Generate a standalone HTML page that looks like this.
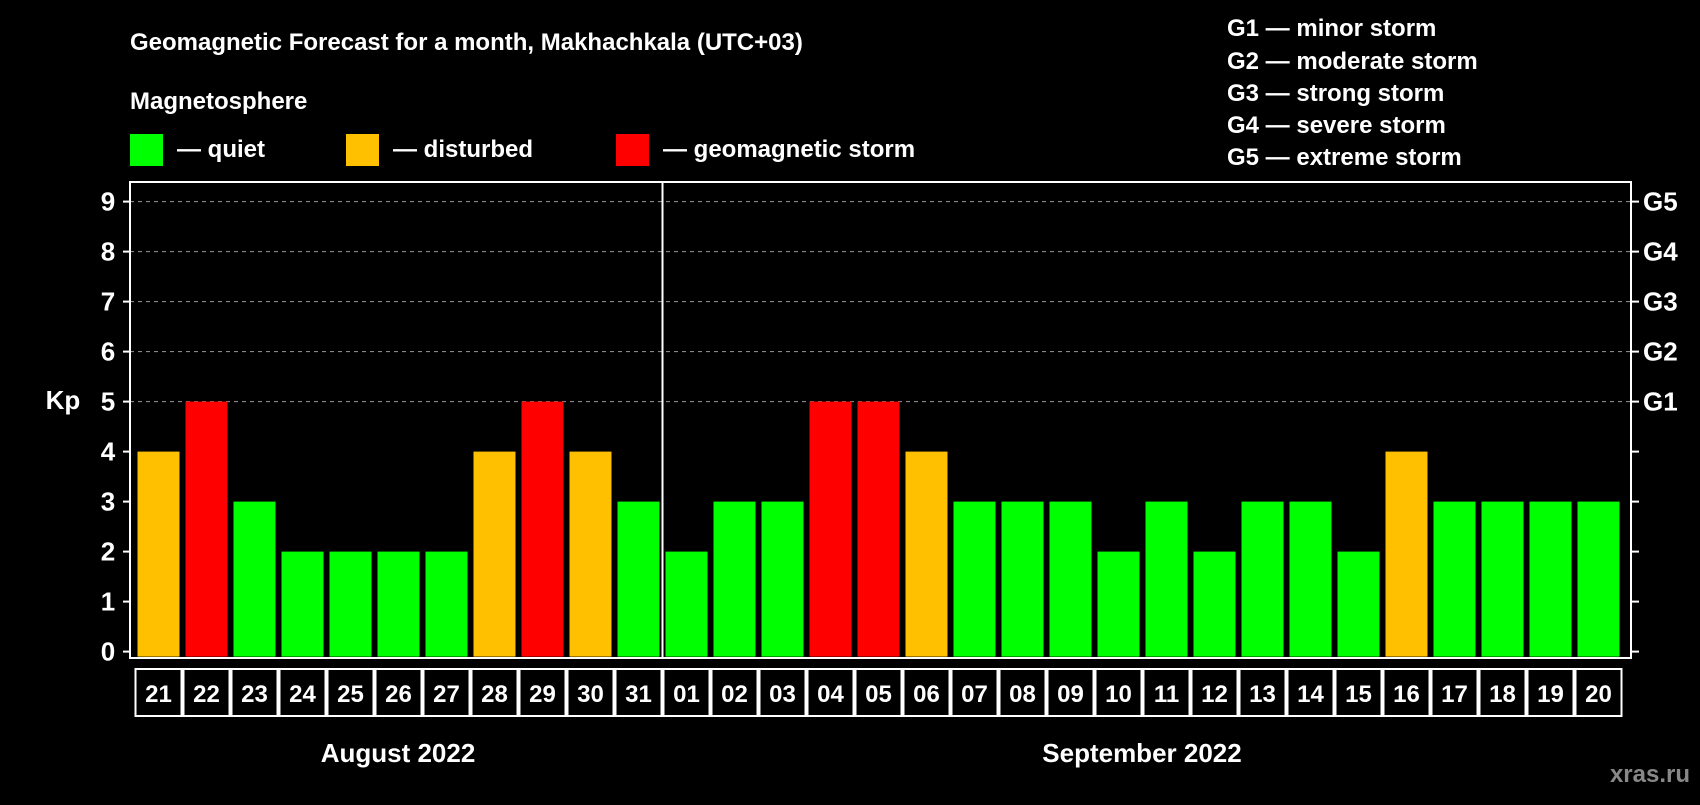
<!DOCTYPE html>
<html><head><meta charset="utf-8"><style>
body{margin:0;background:#000;width:1700px;height:800px;overflow:hidden}
svg text{font-family:"Liberation Sans",Arial,sans-serif;font-weight:bold;fill:#fff}
</style></head><body>
<svg id="c" width="1700" height="800" xmlns="http://www.w3.org/2000/svg">
<text x="130" y="50" font-size="24">Geomagnetic Forecast for a month, Makhachkala (UTC+03)</text>
<text x="130" y="109" font-size="24">Magnetosphere</text>
<g><rect x="130" y="134" width="33" height="32" fill="#00ff00"/><text x="177" y="157" font-size="24">— quiet</text></g>
<g><rect x="346" y="134" width="33" height="32" fill="#ffc000"/><text x="393" y="157" font-size="24">— disturbed</text></g>
<g><rect x="616" y="134" width="33" height="32" fill="#ff0000"/><text x="663" y="157" font-size="24">— geomagnetic storm</text></g>
<g font-size="24">
<text x="1227" y="36">G1 — minor storm</text>
<text x="1227" y="69">G2 — moderate storm</text>
<text x="1227" y="101">G3 — strong storm</text>
<text x="1227" y="133">G4 — severe storm</text>
<text x="1227" y="165">G5 — extreme storm</text>
</g>
<text x="63" y="409" font-size="26" text-anchor="middle">Kp</text>
<text x="398" y="762" font-size="26" text-anchor="middle">August 2022</text>
<text x="1142" y="762" font-size="26" text-anchor="middle">September 2022</text>
<text x="1690" y="782" font-size="24" text-anchor="end" style="fill:#888">xras.ru</text>
<g id="grid"></g><g id="bars"></g><g id="axes"></g>
</svg>
<script>
const days=["21","22","23","24","25","26","27","28","29","30","31","01","02","03","04","05","06","07","08","09","10","11","12","13","14","15","16","17","18","19","20"];
const kp=[4,5,3,2,2,2,2,4,5,4,3,2,3,3,5,5,4,3,3,3,2,3,2,3,3,2,4,3,3,3,3];
const yTicks=[0,1,2,3,4,5,6,7,8,9];
const gLabels=["G1","G2","G3","G4","G5"];
const NS="http://www.w3.org/2000/svg";
const L=130,R=1631,T=182,B=658,slot0=134.5,slotW=48;
function y(v){return 651.6-v*50;}
function x(i){return slot0+i*slotW;}
function color(v){return v>=5?"#ff0000":v>=4?"#ffc000":"#00ff00";}
function mk(tag,a,parent){const e=document.createElementNS(NS,tag);for(const k in a)e.setAttribute(k,a[k]);parent.appendChild(e);return e;}
const grid=document.getElementById('grid'),bars=document.getElementById('bars'),axes=document.getElementById('axes');
yTicks.forEach(v=>{
  if(v>=5){const g=mk('line',{x1:L,x2:R,y1:y(v),y2:y(v),stroke:'#999','stroke-dasharray':'4,4','stroke-width':1},grid);
  
  }
  mk('line',{x1:L-7,x2:L,y1:y(v),y2:y(v),stroke:'#fff','stroke-width':2},axes);
  mk('line',{x1:R,x2:R+8,y1:y(v),y2:y(v),stroke:'#fff','stroke-width':2},axes);
  const t=mk('text',{x:108,y:y(v)+9,'font-size':26,'text-anchor':'middle'},axes);t.textContent=v;
  
  
});
gLabels.forEach((g,i)=>{const t=mk('text',{x:1643,y:y(5+i)+9,'font-size':26},axes);t.textContent=g;
  
  });
kp.forEach((v,i)=>{
  const r=mk('rect',{x:x(i)+3,y:y(v),width:42,height:y(0)-y(v)+5,fill:color(v)},bars);
  
  
  const c=mk('rect',{x:x(i)+1,y:669,width:46,height:47,fill:'none',stroke:'#fff','stroke-width':2},axes);
  
  
  const t=mk('text',{x:x(i)+24,y:702,'font-size':24,'text-anchor':'middle'},axes);t.textContent=days[i];
  
  
});
const f=mk('rect',{x:L,y:T,width:R-L,height:B-T,fill:'none',stroke:'#fff','stroke-width':2},axes);


const s=mk('line',{x1:x(11),x2:x(11),y1:T,y2:B,stroke:'#fff','stroke-width':2},axes);


</script>
</body></html>
